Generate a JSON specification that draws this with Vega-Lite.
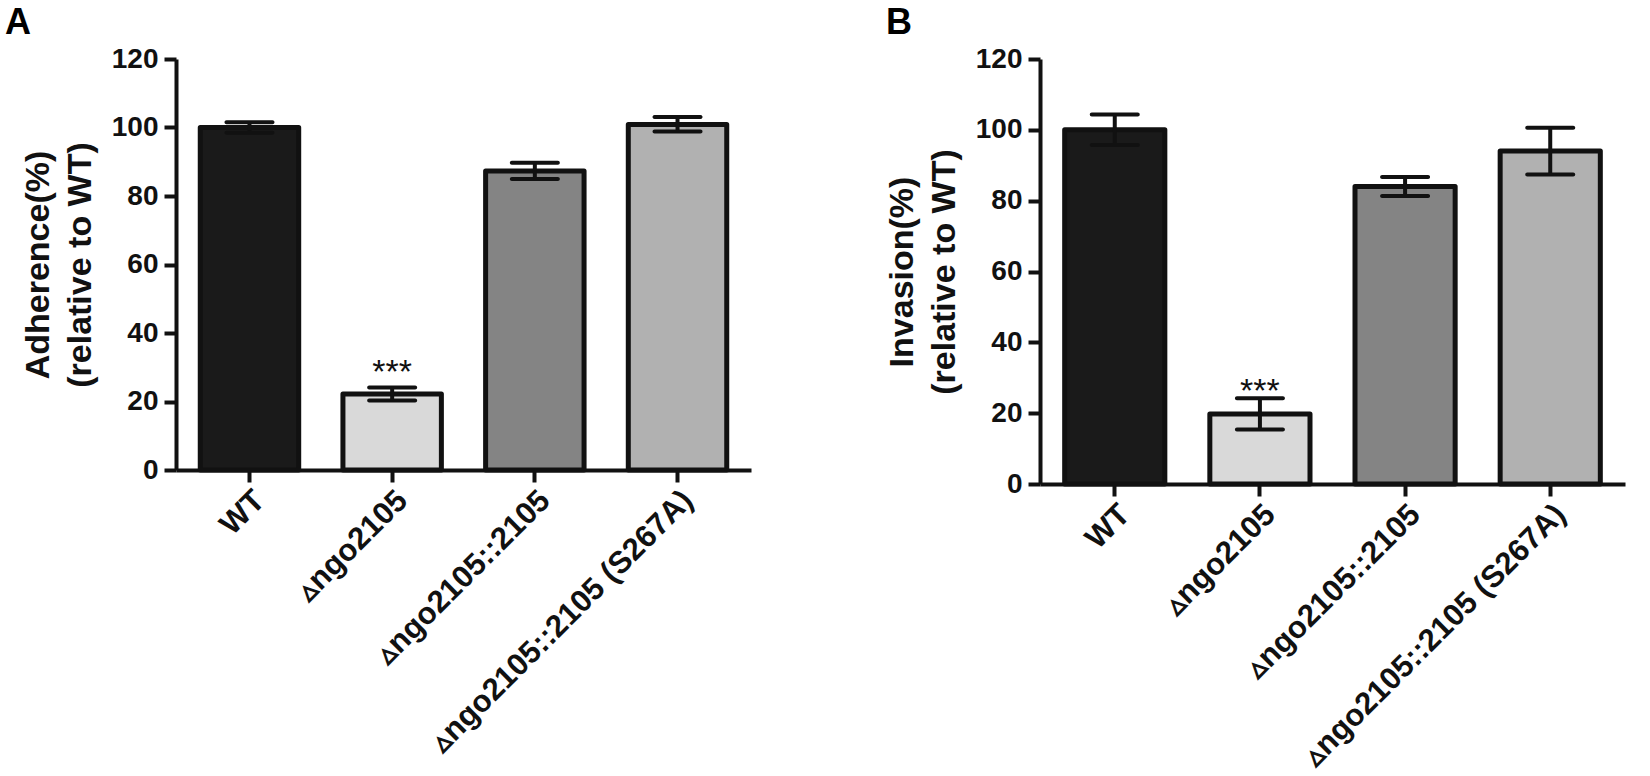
{
  "$schema": "https://vega.github.io/schema/vega-lite/v6.json",
  "background": "white",
  "padding": {"left": 5, "top": 5, "right": 5, "bottom": 0},
  "spacing": 134,
  "config": {
    "view": {"stroke": null},
    "font": "Liberation Sans",
    "axis": {
      "domainColor": "#111111", "domainWidth": 4,
      "tickColor": "#111111", "tickWidth": 4, "tickSize": 12,
      "labelFont": "Liberation Sans", "labelFontWeight": "bold", "labelColor": "#111111", "labelLimit": 0,
      "titleFont": "Liberation Sans", "titleFontWeight": "bold", "titleColor": "#111111",
      "grid": false
    },
    "title": {"font": "Liberation Sans", "fontSize": 36, "fontWeight": "bold", "anchor": "start", "color": "#000000", "frame": "group"}
  },
  "datasets": {
    "adh": [
      {"strain": "WT", "mean": 100, "lower": 98.5, "upper": 101.5, "sig": ""},
      {"strain": "▵ngo2105", "mean": 22.2, "lower": 20.3, "upper": 24.1, "sig": "***"},
      {"strain": "▵ngo2105::2105", "mean": 87.3, "lower": 85.0, "upper": 89.7, "sig": ""},
      {"strain": "▵ngo2105::2105 (S267A)", "mean": 100.9, "lower": 98.8, "upper": 103.1, "sig": ""}
    ],
    "inv": [
      {"strain": "WT", "mean": 100, "lower": 95.7, "upper": 104.3, "sig": ""},
      {"strain": "▵ngo2105", "mean": 19.8, "lower": 15.4, "upper": 24.2, "sig": "***"},
      {"strain": "▵ngo2105::2105", "mean": 84.0, "lower": 81.3, "upper": 86.7, "sig": ""},
      {"strain": "▵ngo2105::2105 (S267A)", "mean": 94.0, "lower": 87.4, "upper": 100.6, "sig": ""}
    ]
  },
  "hconcat": [
    {
      "title": {"text": "A", "dx": -171, "offset": 3, "fontSize": 36, "fontWeight": "bold"},
      "width": 575, "height": 411,
      "data": {"name": "adh"},
      "encoding": {
        "x": {"field": "strain", "type": "nominal", "sort": null,
          "scale": {"paddingInner": 0.31, "paddingOuter": 0.17},
          "axis": {"title": null, "labelAngle": -45, "labelFontSize": 31, "labelPadding": 3, "labelLimit": 0}}
      },
      "layer": [
        {"mark": {"type": "bar", "stroke": "#111111", "strokeWidth": 5, "strokeJoin": "round"},
         "encoding": {
           "y": {"field": "mean", "type": "quantitative", "scale": {"domain": [0, 120], "nice": false},
             "axis": {"values": [0, 20, 40, 60, 80, 100, 120], "title": ["Adherence(%)", "(relative to WT)"],
               "titleFontSize": 34, "titleLineHeight": 42, "titlePadding": 14, "labelFontSize": 28, "labelPadding": 6}},
           "color": {"field": "strain", "type": "nominal",
             "scale": {"domain": ["WT", "▵ngo2105", "▵ngo2105::2105", "▵ngo2105::2105 (S267A)"],
               "range": ["#1a1a1a", "#d9d9d9", "#848484", "#b1b1b1"]}, "legend": null}
         }},
        {"mark": {"type": "rule", "strokeWidth": 4, "color": "#111111"},
         "encoding": {"y": {"field": "lower", "type": "quantitative"}, "y2": {"field": "upper"}}},
        {"mark": {"type": "tick", "thickness": 4, "size": 50, "color": "#111111", "cornerRadius": 2, "opacity": 1},
         "encoding": {"y": {"field": "upper", "type": "quantitative"}}},
        {"mark": {"type": "tick", "thickness": 4, "size": 50, "color": "#111111", "cornerRadius": 2, "opacity": 1},
         "encoding": {"y": {"field": "lower", "type": "quantitative"}}},
        {"mark": {"type": "text", "fontSize": 34, "baseline": "alphabetic", "dy": -4, "font": "Liberation Sans", "color": "#111111"},
         "encoding": {"y": {"field": "upper", "type": "quantitative"}, "text": {"field": "sig"}}}
      ]
    },
    {
      "title": {"text": "B", "dx": -154, "offset": 3, "fontSize": 36, "fontWeight": "bold"},
      "width": 585, "height": 425,
      "data": {"name": "inv"},
      "encoding": {
        "x": {"field": "strain", "type": "nominal", "sort": null,
          "scale": {"paddingInner": 0.31, "paddingOuter": 0.17},
          "axis": {"title": null, "labelAngle": -45, "labelFontSize": 31, "labelPadding": 3, "labelLimit": 0}}
      },
      "layer": [
        {"mark": {"type": "bar", "stroke": "#111111", "strokeWidth": 5, "strokeJoin": "round"},
         "encoding": {
           "y": {"field": "mean", "type": "quantitative", "scale": {"domain": [0, 120], "nice": false},
             "axis": {"values": [0, 20, 40, 60, 80, 100, 120], "title": ["Invasion(%)", "(relative to WT)"],
               "titleFontSize": 34, "titleLineHeight": 42, "titlePadding": 14, "labelFontSize": 28, "labelPadding": 6}},
           "color": {"field": "strain", "type": "nominal",
             "scale": {"domain": ["WT", "▵ngo2105", "▵ngo2105::2105", "▵ngo2105::2105 (S267A)"],
               "range": ["#1a1a1a", "#d9d9d9", "#848484", "#b1b1b1"]}, "legend": null}
         }},
        {"mark": {"type": "rule", "strokeWidth": 4, "color": "#111111"},
         "encoding": {"y": {"field": "lower", "type": "quantitative"}, "y2": {"field": "upper"}}},
        {"mark": {"type": "tick", "thickness": 4, "size": 50, "color": "#111111", "cornerRadius": 2, "opacity": 1},
         "encoding": {"y": {"field": "upper", "type": "quantitative"}}},
        {"mark": {"type": "tick", "thickness": 4, "size": 50, "color": "#111111", "cornerRadius": 2, "opacity": 1},
         "encoding": {"y": {"field": "lower", "type": "quantitative"}}},
        {"mark": {"type": "text", "fontSize": 34, "baseline": "alphabetic", "dy": 4, "font": "Liberation Sans", "color": "#111111"},
         "encoding": {"y": {"field": "upper", "type": "quantitative"}, "text": {"field": "sig"}}}
      ]
    }
  ]
}
